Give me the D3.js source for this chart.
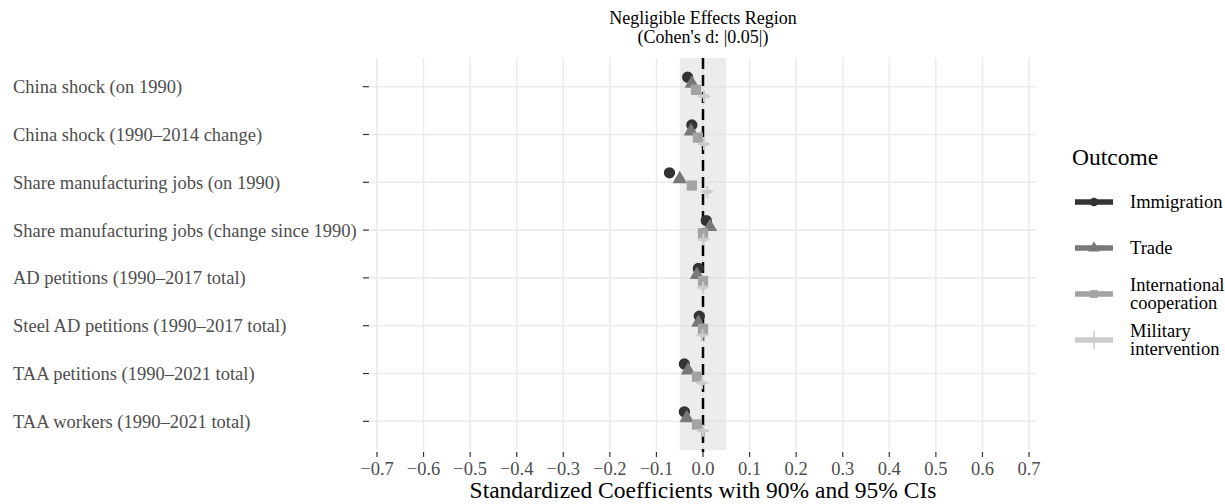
<!DOCTYPE html>
<html>
<head>
<meta charset="utf-8">
<script src="https://cdn.jsdelivr.net/npm/d3@7"></script>
<style>
  body { margin: 0; background: #fff; }
</style>
</head>
<body>
<div id="chart"></div>
<script>
const W = 1225, H = 504;
const FONT = "'Liberation Serif', 'Times New Roman', Times, 'DejaVu Serif', serif";

// data
const categories = [
  "China shock (on 1990)",
  "China shock (1990\u20132014 change)",
  "Share manufacturing jobs (on 1990)",
  "Share manufacturing jobs (change since 1990)",
  "AD petitions (1990\u20132017 total)",
  "Steel AD petitions (1990\u20132017 total)",
  "TAA petitions (1990\u20132021 total)",
  "TAA workers (1990\u20132021 total)"
];
const outcomes = ["Immigration", "Trade", "International cooperation", "Military intervention"];
const immigration = [-0.033, -0.024, -0.072, 0.007, -0.010, -0.008, -0.040, -0.040];
const trade       = [-0.024, -0.026, -0.050, 0.015, -0.013, -0.010, -0.032, -0.035];
const intlCoop    = [-0.015, -0.011, -0.024, 0.000, 0.000, 0.000, -0.013, -0.013];
const military    = [0.002, 0.002, 0.009, 0.001, 0.000, -0.001, -0.002, 0.000];
// CI half-widths (95% and 90%)
const ci95 = [0.010, 0.010, 0.010, 0.008, 0.008, 0.008, 0.010, 0.010];
const ci90 = [0.008, 0.008, 0.008, 0.006, 0.006, 0.006, 0.008, 0.008];
const xTicks = [-0.7, -0.6, -0.5, -0.4, -0.3, -0.2, -0.1, 0, 0.1, 0.2, 0.3, 0.4, 0.5, 0.6, 0.7];
const negligible = [-0.05, 0.05];

const seriesValues = [immigration, trade, intlCoop, military];
const colors = ["#333333", "#787878", "#a3a3a3", "#cbcbcb"];
const shapes = ["circle", "triangle", "square", "cross"];

const panel = { left: 370, right: 1036, top: 58, bottom: 450 };

const svg = d3.select("#chart").append("svg")
  .attr("width", W).attr("height", H)
  .style("font-family", FONT);

const x = d3.scaleLinear().domain([-0.715, 0.715]).range([panel.left, panel.right]);
const y = d3.scalePoint().domain(categories).range([panel.top, panel.bottom]).padding(0.6);
const dodge = d3.scalePoint().domain(outcomes).range([-9.5, 9.5]);

// grid
svg.append("g").selectAll("line").data(xTicks).enter().append("line")
  .attr("x1", d => x(d)).attr("x2", d => x(d))
  .attr("y1", panel.top).attr("y2", panel.bottom)
  .style("stroke", "#ebebeb").style("stroke-width", 1.6);
svg.append("g").selectAll("line").data(categories).enter().append("line")
  .attr("x1", panel.left).attr("x2", panel.right)
  .attr("y1", d => y(d)).attr("y2", d => y(d))
  .style("stroke", "#ebebeb").style("stroke-width", 1.6);

// negligible region
svg.append("rect")
  .attr("x", x(negligible[0])).attr("width", x(negligible[1]) - x(negligible[0]))
  .attr("y", panel.top).attr("height", panel.bottom - panel.top)
  .attr("fill", "#d9d9d9").attr("fill-opacity", 0.5);

// zero line
svg.append("line")
  .attr("x1", x(0)).attr("x2", x(0))
  .attr("y1", panel.top).attr("y2", panel.bottom + 2)
  .style("stroke", "#000").style("stroke-width", 2.5)
  .style("stroke-dasharray", "11,6");

function symbolPath(shape, size) {
  var t = { circle: d3.symbolCircle, triangle: d3.symbolTriangle, square: d3.symbolSquare, cross: d3.symbolCross }[shape];
  return d3.symbol().type(t).size(size)();
}

// points and CIs
var rows = [];
outcomes.forEach(function (o, j) {
  categories.forEach(function (c, i) {
    rows.push({ cat: c, outcome: o, j: j, v: seriesValues[j][i], c95: ci95[i], c90: ci90[i] });
  });
});

var g = svg.append("g");
rows.forEach(function (d) {
  var cy = y(d.cat) + dodge(d.outcome);
  g.append("line")
    .attr("x1", x(d.v - d.c95)).attr("x2", x(d.v + d.c95))
    .attr("y1", cy).attr("y2", cy)
    .style("stroke", colors[d.j]).style("stroke-width", 1.5);
  g.append("line")
    .attr("x1", x(d.v - d.c90)).attr("x2", x(d.v + d.c90))
    .attr("y1", cy).attr("y2", cy)
    .style("stroke", colors[d.j]).style("stroke-width", 4);
  if (shapes[d.j] == "cross") {
    g.append("path")
      .attr("d", "M-6,0H6M0,-6V6")
      .attr("transform", "translate(" + x(d.v) + "," + cy + ")")
      .style("stroke", colors[d.j]).style("stroke-width", 2).style("fill", "none");
  } else {
    var size = shapes[d.j] == "square" ? 105 : (shapes[d.j] == "triangle" ? 90 : 100);
    g.append("path")
      .attr("d", symbolPath(shapes[d.j], size))
      .attr("transform", "translate(" + x(d.v) + "," + cy + ")")
      .attr("fill", colors[d.j]);
  }
});

// axes
svg.append("g").selectAll("line").data(xTicks).enter().append("line")
  .attr("x1", d => x(d)).attr("x2", d => x(d))
  .attr("y1", panel.bottom + 2).attr("y2", panel.bottom + 7)
  .style("stroke", "#333").style("stroke-width", 1.2);
svg.append("g").selectAll("text").data(xTicks).enter().append("text")
  .attr("x", d => x(d)).attr("y", 475)
  .attr("text-anchor", "middle")
  .style("font-size", "18.5px").attr("fill", "#4d4d4d")
  .text(d => (d < 0 ? "\u2212" : "") + Math.abs(d).toFixed(1));

svg.append("g").selectAll("line").data(categories).enter().append("line")
  .attr("x1", panel.left - 7).attr("x2", panel.left - 1)
  .attr("y1", d => y(d)).attr("y2", d => y(d))
  .style("stroke", "#333").style("stroke-width", 1.2);
svg.append("g").selectAll("text").data(categories).enter().append("text")
  .attr("x", 13).attr("y", d => y(d) + 6.5)
  .style("font-size", "18.5px").attr("fill", "#4d4d4d")
  .text(d => d);

svg.append("text")
  .attr("x", x(0)).attr("y", 498)
  .attr("text-anchor", "middle").style("font-size", "23.5px").attr("fill", "#000")
  .text("Standardized Coefficients with 90% and 95% CIs");

svg.append("text")
  .attr("x", x(0)).attr("y", 23.5)
  .attr("text-anchor", "middle").style("font-size", "18px").attr("fill", "#000")
  .text("Negligible Effects Region");
svg.append("text")
  .attr("x", x(0)).attr("y", 42.5)
  .attr("text-anchor", "middle").style("font-size", "18px").attr("fill", "#000")
  .text("(Cohen's d: |0.05|)");

// legend
var legendLabels = [["Immigration"], ["Trade"], ["International", "cooperation"], ["Military", "intervention"]];
var legendY = [202, 248, 294, 340];
svg.append("text")
  .attr("x", 1072).attr("y", 165)
  .style("font-size", "23.5px").attr("fill", "#000")
  .text("Outcome");
outcomes.forEach(function (o, j) {
  var ly = legendY[j];
  var lg = svg.append("g");
  lg.append("line")
    .attr("x1", 1075).attr("x2", 1113).attr("y1", ly).attr("y2", ly)
    .style("stroke", colors[j]).style("stroke-width", 5.5);
  if (shapes[j] == "cross") {
    lg.append("path").attr("d", "M0,-9V9")
      .attr("transform", "translate(1094," + ly + ")")
      .style("stroke", colors[j]).style("stroke-width", 1.5);
  } else {
    lg.append("path").attr("d", symbolPath(shapes[j], 60))
      .attr("transform", "translate(1094," + ly + ")")
      .attr("fill", colors[j]);
  }
  var lines = legendLabels[j];
  lines.forEach(function (t, k) {
    lg.append("text")
      .attr("x", 1130)
      .attr("y", ly + 6 + (k - (lines.length - 1) / 2) * 18)
      .style("font-size", "18.5px").attr("fill", "#000")
      .text(t);
  });
});
</script>
</body>
</html>
